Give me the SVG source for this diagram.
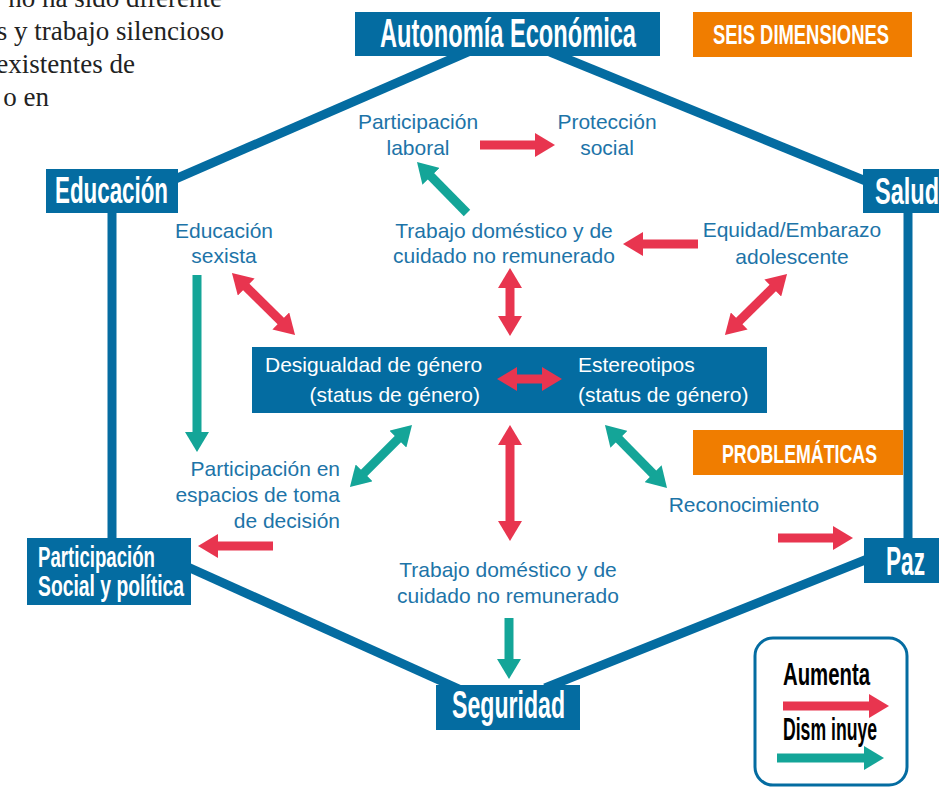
<svg xmlns="http://www.w3.org/2000/svg" width="939" height="787" viewBox="0 0 939 787">
<defs>
<marker id="hr" markerUnits="userSpaceOnUse" viewBox="0 0 20 24" markerWidth="20" markerHeight="24" refX="1" refY="12" orient="auto-start-reverse"><path d="M0,0 L20,12 L0,24 Z" fill="#e8354f"/></marker>
<marker id="ht" markerUnits="userSpaceOnUse" viewBox="0 0 20 24" markerWidth="20" markerHeight="24" refX="1" refY="12" orient="auto-start-reverse"><path d="M0,0 L20,12 L0,24 Z" fill="#14a598"/></marker>
</defs>
<style>
.hex{stroke:#046ca1;stroke-width:9;fill:none}
.box{fill:#046ca1}
.obox{fill:#f07d00}
.t{font-family:"Liberation Sans",Arial,sans-serif;font-weight:bold;fill:#fff}
.lbl{font-family:"Liberation Sans",Arial,sans-serif;font-size:21px;fill:#1d74a8}
.c{font-family:"Liberation Sans",Arial,sans-serif;font-size:21px;fill:#fff}
.r{stroke:#e8354f;stroke-width:9;fill:none}
.g{stroke:#14a598;stroke-width:9;fill:none}
.rs{marker-end:url(#hr)}
.rd{marker-start:url(#hr);marker-end:url(#hr)}
.gs{marker-end:url(#ht)}
.gd{marker-start:url(#ht);marker-end:url(#ht)}
.serif{font-family:"Liberation Serif","Times New Roman",serif;font-size:27px;fill:#222}
.leg{font-family:"Liberation Sans",Arial,sans-serif;font-size:32px;font-weight:bold;fill:#000}
</style>
<rect width="939" height="787" fill="#fff"/>
<g id="intro-text" class="serif" text-anchor="end">
<text x="222" y="7">no ha sido diferente</text>
<text x="224" y="40">s y trabajo silencioso</text>
<text x="135" y="73">existentes de</text>
<text x="49" y="106">o en</text>
</g>
<g id="hexagon">
<line class="hex" x1="150" y1="190" x2="470" y2="51"/>
<line class="hex" x1="550" y1="52" x2="900" y2="195"/>
<line class="hex" x1="112" y1="200" x2="112" y2="550"/>
<line class="hex" x1="908" y1="200" x2="908" y2="550"/>
<line class="hex" x1="170" y1="559" x2="470" y2="694"/>
<line class="hex" x1="900" y1="546" x2="545" y2="688"/>
</g>
<g id="autonomia"><rect class="box" x="355" y="12" width="305" height="44"/><text class="t" x="380" y="47" font-size="40" textLength="256" lengthAdjust="spacingAndGlyphs">Autonomía Económica</text></g>
<g id="seis"><rect class="obox" x="693" y="12" width="219" height="45"/><text class="t" x="713" y="44" font-size="27" textLength="176" lengthAdjust="spacingAndGlyphs">SEIS DIMENSIONES</text></g>
<g id="educacion"><rect class="box" x="46" y="169" width="132" height="44"/><text class="t" x="55" y="203" font-size="36" textLength="113" lengthAdjust="spacingAndGlyphs">Educación</text></g>
<g id="salud"><rect class="box" x="863" y="169" width="82" height="44"/><text class="t" x="875" y="204" font-size="36" textLength="64" lengthAdjust="spacingAndGlyphs">Salud</text></g>
<g id="participacion-social"><rect class="box" x="27" y="538" width="164" height="67"/><text class="t" x="38" y="567" font-size="30" textLength="117" lengthAdjust="spacingAndGlyphs">Participación</text><text class="t" x="38" y="596" font-size="30" textLength="146" lengthAdjust="spacingAndGlyphs">Social y política</text></g>
<g id="paz"><rect class="box" x="864" y="538" width="80" height="45"/><text class="t" x="886" y="575" font-size="40" textLength="39" lengthAdjust="spacingAndGlyphs">Paz</text></g>
<g id="seguridad"><rect class="box" x="436" y="685" width="144" height="45"/><text class="t" x="452" y="718" font-size="38" textLength="113" lengthAdjust="spacingAndGlyphs">Seguridad</text></g>
<g id="problematicas"><rect class="obox" x="693" y="430" width="210" height="45"/><text class="t" x="722" y="463" font-size="26" textLength="155" lengthAdjust="spacingAndGlyphs">PROBLEMÁTICAS</text></g>
<g id="centro"><rect class="box" x="252" y="347" width="515" height="66"/>
<text class="c" x="265" y="372">Desigualdad de género</text>
<text class="c" x="480" y="402" text-anchor="end">(status de género)</text>
<text class="c" x="578" y="372">Estereotipos</text>
<text class="c" x="578" y="402">(status de género)</text></g>
<g id="labels" class="lbl" text-anchor="middle">
<g id="participacion-laboral"><text x="418" y="129">Participación</text><text x="418" y="155">laboral</text></g>
<g id="proteccion-social"><text x="607" y="129">Protección</text><text x="607" y="155">social</text></g>
<g id="trabajo-superior"><text x="504" y="238">Trabajo doméstico y de</text><text x="504" y="263">cuidado no remunerado</text></g>
<g id="equidad"><text x="792" y="237">Equidad/Embarazo</text><text x="792" y="264">adolescente</text></g>
<g id="educacion-sexista"><text x="224" y="238">Educación</text><text x="224" y="263">sexista</text></g>
<g id="participacion-espacios" text-anchor="end"><text x="340" y="476">Participación en</text><text x="340" y="502">espacios de toma</text><text x="340" y="528">de decisión</text></g>
<g id="reconocimiento"><text x="744" y="512">Reconocimiento</text></g>
<g id="trabajo-inferior"><text x="508" y="577">Trabajo doméstico y de</text><text x="508" y="603">cuidado no remunerado</text></g>
</g>
<g id="connectors">
<line class="r rs" x1="480" y1="145" x2="536" y2="145"/>
<line class="g gs" x1="467" y1="213" x2="430.3" y2="175.6"/>
<line class="r rs" x1="698" y1="244" x2="642" y2="244"/>
<line class="r rd" x1="773.5" y1="287.3" x2="738.5" y2="321.7"/>
<line class="r rd" x1="245.5" y1="286.3" x2="281.5" y2="321.7"/>
<line class="g gs" x1="197" y1="275" x2="197" y2="433"/>
<line class="r rd" x1="510" y1="287" x2="510" y2="317"/>
<line class="r rd" x1="516" y1="379" x2="543" y2="379"/>
<line class="g gd" x1="398.6" y1="438.4" x2="363.4" y2="473.6"/>
<line class="r rd" x1="510" y1="444" x2="510" y2="522"/>
<line class="g gd" x1="618.3" y1="438.5" x2="653.7" y2="474.5"/>
<line class="r rs" x1="273" y1="546" x2="217" y2="546"/>
<line class="r rs" x1="778" y1="538" x2="834" y2="538"/>
<line class="g gs" x1="509" y1="618" x2="509" y2="660"/>
</g>
<g id="leyenda">
<rect x="755" y="638" width="152" height="147" rx="18" fill="#fff" stroke="#046ca1" stroke-width="3"/>
<text class="leg" x="783" y="685" textLength="87" lengthAdjust="spacingAndGlyphs">Aumenta</text>
<line class="r rs" x1="783" y1="706" x2="870" y2="706"/>
<text class="leg" x="783" y="740" textLength="94" lengthAdjust="spacingAndGlyphs">Dism inuye</text>
<line class="g gs" x1="777" y1="758" x2="865" y2="758"/>
</g>
</svg>
